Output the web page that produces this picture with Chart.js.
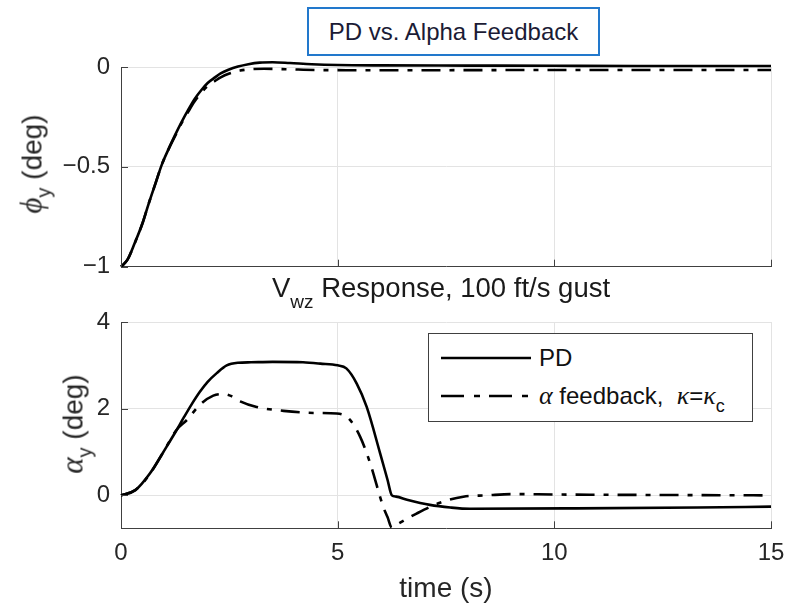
<!DOCTYPE html>
<html><head><meta charset="utf-8">
<script src="https://cdn.jsdelivr.net/npm/chart.js@4.4.0/dist/chart.umd.min.js"></script>
<style>
html,body{margin:0;padding:0;background:#fff;}
#wrap{position:relative;width:790px;height:606px;overflow:hidden;font-family:"Liberation Sans",Arial,sans-serif;color:#262626;}
canvas{position:absolute;left:0;}
#c1{top:0;}
#c2{top:300px;}
.gk{font-family:"Liberation Serif","DejaVu Serif",serif;font-style:italic;}
.ylab{position:absolute;white-space:nowrap;line-height:1;font-size:28px;transform:translate(-50%,-50%) rotate(-90deg);}
.sub{font-size:20px;position:relative;top:9px;}
#tbox{position:absolute;left:307px;top:7px;width:293px;height:49px;box-sizing:border-box;border:2px solid #2278cc;background:#fff;display:flex;align-items:center;justify-content:center;font-size:24px;color:#1b1b35;}
#mtitle{position:absolute;left:141px;width:600px;top:274px;text-align:center;font-size:27.5px;line-height:27px;color:#1a1a1a;white-space:nowrap;}
#legend{position:absolute;left:428px;top:333px;width:325px;height:89px;box-sizing:border-box;border:1px solid #404040;background:#fff;}
#legend svg{position:absolute;left:0;top:0;}
.lt{position:absolute;left:110px;font-size:24px;line-height:1;white-space:nowrap;color:#111;transform:translateY(-50%);}
</style>
</head><body>
<div id="wrap">
<canvas id="c1" width="790" height="300"></canvas>
<canvas id="c2" width="790" height="306"></canvas>
<div id="tbox">PD vs. Alpha Feedback</div>
<div id="mtitle">V<span style="font-size:19px;position:relative;top:11px;">wz</span> Response, 100 ft/s gust</div>
<div class="ylab" style="left:31px;top:164px;"><span class="gk" style="font-size:31px;">ϕ</span><span class="sub">y</span> (deg)</div>
<div class="ylab" style="left:72px;top:424px;"><span class="gk" style="font-size:31px;">α</span><span class="sub">y</span> (deg)</div>
<div id="legend">
  <svg width="325" height="89">
    <line x1="12" y1="24" x2="102" y2="24" stroke="#000" stroke-width="2.6"/>
    <line x1="12" y1="62" x2="102" y2="62" stroke="#000" stroke-width="2.6" stroke-dasharray="23 10 6 9"/>
  </svg>
  <div class="lt" style="top:24px;">PD</div>
  <div class="lt" style="top:62px;"><span class="gk" style="font-size:26px;">α</span> feedback,&nbsp; <span class="gk" style="font-size:26px;">κ</span>=<span class="gk" style="font-size:26px;">κ</span><span style="font-size:18px;position:relative;top:8px;">c</span></div>
</div>
</div>
<script>
// ---- data ----
const xTicks = [0, 5, 10, 15];
const phiTicks = [-1, -0.5, 0];
const alphaTicks = [0, 2, 4];

const tPhiPD = [0,0.15,0.32,0.5,0.63,0.8,0.94,1.1,1.25,1.4,1.55,1.7,1.86,2.0,2.17,2.3,2.48,2.7,2.94,3.2,3.5,3.9,4.4,5.0,6.0,8.0,10.0,12.0,15.0];
const phiPD  = [-1,-0.965,-0.88,-0.78,-0.69,-0.58,-0.49,-0.41,-0.34,-0.275,-0.215,-0.16,-0.114,-0.08,-0.052,-0.032,-0.014,0.002,0.014,0.022,0.024,0.02,0.014,0.01,0.008,0.007,0.006,0.005,0.005];

const tPhiAF = [0,0.15,0.32,0.5,0.63,0.8,0.94,1.1,1.25,1.4,1.55,1.7,1.86,2.0,2.17,2.3,2.5,2.75,3.0,3.3,3.8,4.5,5.5,7.0,10.0,15.0];
const phiAF  = [-1,-0.965,-0.88,-0.78,-0.69,-0.58,-0.49,-0.41,-0.345,-0.28,-0.225,-0.172,-0.127,-0.095,-0.07,-0.052,-0.033,-0.018,-0.011,-0.009,-0.011,-0.015,-0.016,-0.016,-0.015,-0.015];

const tAlphaPD = [0,0.33,0.67,1.05,1.25,1.44,1.63,1.82,2.0,2.21,2.44,2.7,3.0,3.5,4.2,4.6,5.0,5.2,5.44,5.67,5.98,6.15,6.25,6.35,6.6,7.13,7.6,8.05,10.5,13.3,15];
const alphaPD  = [0,0.12,0.51,1.12,1.45,1.78,2.1,2.39,2.62,2.82,3.0,3.06,3.07,3.08,3.07,3.04,3.0,2.93,2.58,2.04,0.97,0.36,0.0,-0.03,-0.1,-0.22,-0.28,-0.31,-0.3,-0.28,-0.26];

const tAlphaAF = [0,0.33,0.67,1.0,1.28,1.52,1.82,2.13,2.36,2.55,2.75,3.13,3.75,4.5,4.98,5.25,5.52,5.75,6.05,6.15,6.25,6.35,6.82,7.36,7.9,8.44,9.05,10,12,15];
const alphaAF  = [0,0.12,0.5,1.04,1.51,1.74,2.09,2.3,2.34,2.29,2.17,2.04,1.95,1.9,1.89,1.78,1.35,0.74,-0.26,-0.5,-0.74,-0.68,-0.42,-0.17,-0.03,0.0,0.03,0.02,0.01,0.0];

// ---- helpers ----
const pts = (ts, vs) => ts.map((t, i) => ({x: t, y: vs[i]}));
const fmt = v => (v < 0 ? '\u2212' + String(-v) : String(v));
const FONT = '"Liberation Sans", Arial, sans-serif';
const AXC = '#404040', GRIDC = '#e3e3e3', TXT = '#262626';

const innerTicks = {
  id: 'innerTicks',
  afterDatasetsDraw(chart) {
    const {ctx, chartArea: a, scales: {x, y}} = chart;
    ctx.save();
    ctx.strokeStyle = AXC; ctx.lineWidth = 1;
    ctx.beginPath();
    y.ticks.forEach(t => { const p = Math.round(y.getPixelForValue(t.value)) + 0.5; ctx.moveTo(a.left, p); ctx.lineTo(a.left + 7, p); });
    x.ticks.forEach(t => { const p = Math.round(x.getPixelForValue(t.value)) + 0.5; ctx.moveTo(p, a.bottom); ctx.lineTo(p, a.bottom - 7); });
    ctx.stroke();
    ctx.restore();
  }
};

function lineDs(data, dashed) {
  return {
    data, borderColor: '#000', borderWidth: 2.6, pointRadius: 0,
    borderDash: dashed ? [19, 9, 5, 9] : [], borderCapStyle: 'butt',
    cubicInterpolationMode: 'monotone', fill: false, clip: false
  };
}

function makeChart(id, ds, yMin, yMax, yTicks, showX, pad, xHeight) {
  return new Chart(document.getElementById(id), {
    type: 'line',
    data: {datasets: ds},
    options: {
      responsive: false, animation: false, events: [],
      layout: {padding: pad},
      plugins: {legend: {display: false}, tooltip: {enabled: false}},
      scales: {
        x: {
          type: 'linear', min: 0, max: 15,
          afterBuildTicks: s => { s.ticks = xTicks.map(v => ({value: v})); },
          afterFit: s => { s.height = xHeight; s.paddingLeft = 0; s.paddingRight = 0; },
          grid: {color: GRIDC, drawTicks: false},
          border: {display: true, color: AXC, width: 1},
          ticks: {display: showX, color: TXT, font: {family: FONT, size: 24}, padding: 11, maxRotation: 0,
                  callback: v => fmt(v)},
          title: {display: showX, text: 'time (s)', color: TXT, font: {family: FONT, size: 28}, padding: {top: 0, bottom: 0}}
        },
        y: {
          type: 'linear', min: yMin, max: yMax,
          afterBuildTicks: s => { s.ticks = yTicks.map(v => ({value: v})); },
          afterFit: s => { s.width = 121; s.paddingTop = 0; s.paddingBottom = 0; },
          grid: {color: GRIDC, drawTicks: false},
          border: {display: true, color: AXC, width: 1},
          ticks: {color: TXT, font: {family: FONT, size: 24}, padding: 11, callback: v => fmt(v)}
        }
      }
    },
    plugins: [innerTicks]
  });
}

makeChart('c1', [lineDs(pts(tPhiPD, phiPD), false), lineDs(pts(tPhiAF, phiAF), true)],
  -1, 0, phiTicks, false, {left: 0, right: 19, top: 67, bottom: 33.3}, 0);
makeChart('c2', [lineDs(pts(tAlphaPD, alphaPD), false), lineDs(pts(tAlphaAF, alphaAF), true)],
  -0.76, 4, alphaTicks, true, {left: 0, right: 19, top: 22, bottom: 0}, 77.7);
</script>
</body></html>
